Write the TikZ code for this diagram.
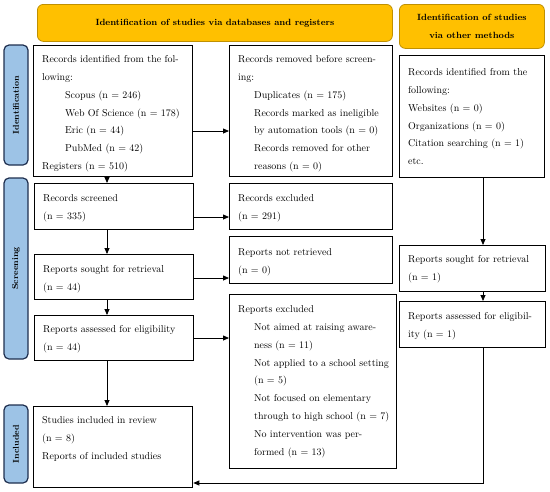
\documentclass[tikz,border=0pt]{standalone}
\usetikzlibrary{arrows.meta,calc}
\definecolor{hdrfill}{HTML}{FFC000}
\definecolor{hdrdraw}{HTML}{C09000}
\definecolor{sidefill}{HTML}{9DC3E6}
\definecolor{sidedraw}{HTML}{1F2F4F}
\newcommand\jl[1]{\makebox[\linewidth][s]{#1}}
\newcommand\ind[1]{\hspace*{16pt}\mbox{#1}}
\newcommand\indb[1]{\hspace*{23pt}\mbox{#1}}
\newcommand\jli[1]{\hspace*{16pt}\makebox[\dimexpr\linewidth-16pt\relax][s]{#1}}
\newcommand\bxt[3]{\parbox[c][#1][t]{\linewidth}{\rule{0pt}{#2}#3}}
\tikzset{
  bx/.style={draw, line width=1.3pt, anchor=north west, inner xsep=8.5pt, inner ysep=0pt,
    font=\fontsize{10}{17.8}\selectfont},
  hdr/.style={draw=hdrdraw, fill=hdrfill, line width=0.8pt, rounded corners=6pt, anchor=north west,
    inner sep=0pt, align=center, font=\fontsize{9}{18}\selectfont\bfseries},
  side/.style={draw=sidedraw, fill=sidefill, line width=1.2pt, rounded corners=5pt, rotate=90,
    inner sep=0pt, minimum height=24pt, font=\fontsize{8.5}{10}\selectfont\bfseries},
  arr/.style={line width=0.8pt, -{Triangle[length=6pt,width=5pt]}}
}
\begin{document}
\begin{tikzpicture}[x=1pt,y=-1pt]
\useasboundingbox (0,0) rectangle (550,491);
% headers
\node[hdr, minimum width=355pt, minimum height=37pt] (h1) at (37,4) {Identification of studies via databases and registers};
\node[hdr, minimum width=145pt, minimum height=44pt] (h2) at (399,4) {Identification of studies\\via other methods};
% side labels
\node[side, minimum width=120pt] (sid) at (16,105) {Identification};
\node[side, minimum width=181pt] (sscr) at (16,268.5) {Screening};
\node[side, minimum width=78pt] (sinc) at (16,444) {Included};
% boxes
\node[bx, text width=142pt] (b1) at (33,45) {\bxt{131pt}{17pt}{%
\jl{Records identified from the fol-}\par
lowing:\par
\indb{Scopus (n = 246)}\par
\indb{Web Of Science (n = 178)}\par
\indb{Eric (n = 44)}\par
\indb{PubMed (n = 42)}\par
Registers (n = 510)}};
\node[bx, text width=146pt] (b2) at (229,45) {\bxt{131pt}{17pt}{%
\jl{Records removed before screen-}\par
ing:\par
\ind{Duplicates (n = 175)}\par
\jli{Records marked as ineligible}\par
\ind{by automation tools (n = 0)}\par
\jli{Records removed for other}\par
\ind{reasons (n = 0)}}};
\node[bx, text width=128pt] (b3) at (399,55) {\bxt{122pt}{20pt}{%
\jl{Records identified from the}\par
following:\par
Websites (n = 0)\par
Organizations (n = 0)\par
Citation searching (n = 1)\par
etc.}};
\node[bx, text width=142pt] (s1) at (34,183) {\bxt{46pt}{18pt}{Records screened\par (n = 335)}};
\node[bx, text width=146pt] (e1) at (229,183) {\bxt{46pt}{18pt}{Records excluded\par (n = 291)}};
\node[bx, text width=142pt] (s2) at (34,254) {\bxt{45pt}{18pt}{Reports sought for retrieval\par (n = 44)}};
\node[bx, text width=146pt] (e2) at (229,236) {\bxt{47pt}{19pt}{Reports not retrieved\par (n = 0)}};
\node[bx, text width=142pt] (s3) at (34,315) {\bxt{45pt}{17pt}{Reports assessed for eligibility\par (n = 44)}};
\node[bx, text width=150pt] (e3) at (229,294) {\bxt{174pt}{18pt}{%
Reports excluded\par
\jli{Not aimed at raising aware-}\par
\ind{ness (n = 11)}\par
\ind{Not applied to a school setting}\par
\ind{(n = 5)}\par
\jli{Not focused on elementary}\par
\ind{through to high school (n = 7)}\par
\jli{No intervention was per-}\par
\ind{formed (n = 13)}}};
\node[bx, text width=142pt] (inc) at (33,406) {\bxt{81pt}{17pt}{%
Studies included in review\par
(n = 8)\par
Reports of included studies}};
\node[bx, text width=129pt] (o2) at (399,245) {\bxt{46pt}{17pt}{Reports sought for retrieval\par (n = 1)}};
\node[bx, text width=129pt] (o3) at (399,301) {\bxt{46pt}{18pt}{\jl{Reports assessed for eligibil-}\par ity (n = 1)}};
% helper coordinates
\coordinate (cx) at (107,0);
\coordinate (rx) at (483,0);
\coordinate (y1) at (0,131);
\coordinate (y2) at (0,217);
\coordinate (y3) at (0,278);
\coordinate (y4) at (0,338);
\coordinate (y5) at (0,483);
% connectors
\draw[arr] (b1.east |- y1) -- (b2.west |- y1);
\draw[arr] (b1.south -| cx) -- (s1.north -| cx);
\draw[arr] (s1.east |- y2) -- (e1.west |- y2);
\draw[arr] (s1.south -| cx) -- (s2.north -| cx);
\draw[arr] (s2.east |- y3) -- (e2.west |- y3);
\draw[arr] (s2.south -| cx) -- (s3.north -| cx);
\draw[arr] (s3.east |- y4) -- (e3.west |- y4);
\draw[arr] (s3.south -| cx) -- (inc.north -| cx);
\draw[arr] (b3.south -| rx) -- (o2.north -| rx);
\draw[arr] (o2.south -| rx) -- (o3.north -| rx);
\draw[arr] (o3.south -| rx) |- (inc.east |- y5);
\end{tikzpicture}
\end{document}
